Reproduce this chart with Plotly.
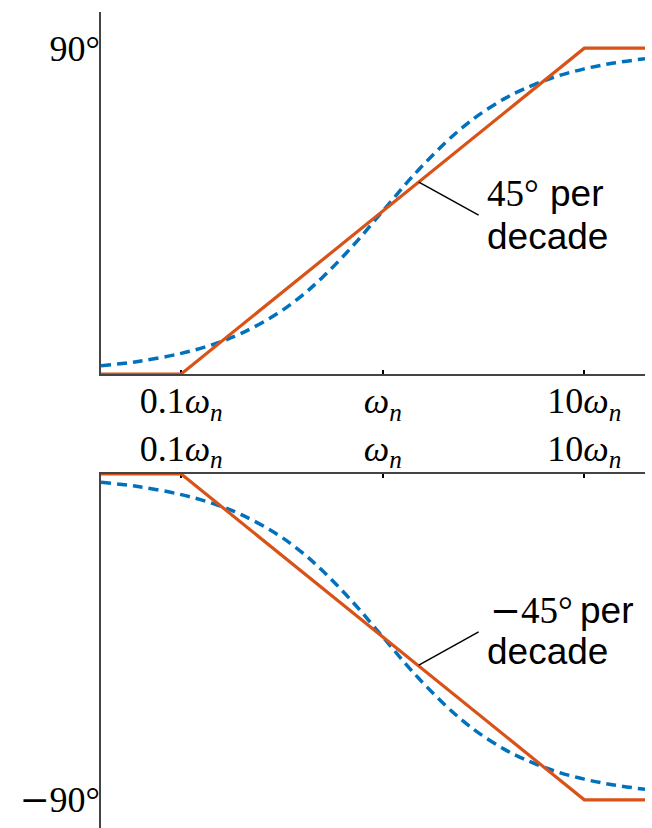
import numpy as np
import plotly.graph_objects as go
from plotly.subplots import make_subplots

# Frequency samples (in units of the natural frequency) and phase readings, degrees
freq = [0.04, 0.06, 0.1, 0.15, 0.2, 0.3, 0.4, 0.5, 0.7, 1.0,
        1.4, 2.0, 2.5, 3.0, 4.0, 5.0, 7.0, 10.0, 14.0, 20.0]
phase_exact = [2.3, 3.4, 5.7, 8.5, 11.3, 16.7, 21.8, 26.6, 35.0, 45.0,
               54.5, 63.4, 68.2, 71.6, 76.0, 78.7, 81.9, 84.3, 85.9, 87.1]
phase_exact_neg = [-v for v in phase_exact]

# Straight-line (asymptotic) approximation
asym_freq = [0.04, 0.1, 10.0, 20.0]
asym_phase = [0, 0, 90, 90]
asym_phase_neg = [0, 0, -90, -90]

# Leader lines pointing at the asymptote slope
lead_freq = [1.51, 2.99]
lead_top = [53.0, 43.9]
lead_bot = [-52.8, -43.6]

tick_vals = [0.1, 1, 10]
tick_text = ["0.1<i>ω</i><sub><i>n</i></sub>",
             "<i>ω</i><sub><i>n</i></sub>",
             "10<i>ω</i><sub><i>n</i></sub>"]

BLUE = "#0072BD"
ORANGE = "#D95319"
AXIS = "#444444"
SERIF = "Liberation Serif"
SANS = "Liberation Sans"
# math-style minus sign with a wider glyph
MINUS = '<span style="font-family:DejaVu Serif">−</span>'

W, H = 652, 828
top_px, mid1_px, mid2_px, bot_px = 12, 374, 474, 828
span = bot_px - top_px

fig = make_subplots(rows=2, cols=1, shared_xaxes=False, vertical_spacing=0.05)

def add_panel(row, exact, asym, lead):
    fig.add_trace(go.Scatter(x=freq, y=exact, mode="lines",
                             line=dict(color=BLUE, width=3.5, dash="10px,6px", shape="spline"),
                             showlegend=False, hoverinfo="skip"), row=row, col=1)
    fig.add_trace(go.Scatter(x=asym_freq, y=asym, mode="lines",
                             line=dict(color=ORANGE, width=3.2),
                             showlegend=False, hoverinfo="skip"), row=row, col=1)
    fig.add_trace(go.Scatter(x=lead_freq, y=lead, mode="lines",
                             line=dict(color="black", width=1.5),
                             showlegend=False, hoverinfo="skip"), row=row, col=1)

add_panel(1, phase_exact, asym_phase, lead_top)
add_panel(2, phase_exact_neg, asym_phase_neg, lead_bot)

xaxis_common = dict(type="log", range=[np.log10(0.04), np.log10(20)],
                    tickvals=tick_vals, ticktext=tick_text,
                    ticks="inside", ticklen=4, tickwidth=1.5, tickcolor="black",
                    showline=True, linecolor=AXIS, linewidth=1.6,
                    showgrid=False, zeroline=False, layer="below traces",
                    tickfont=dict(family=SERIF, size=36, color="black"))

yaxis_common = dict(ticks="", ticklen=0, showline=True, linecolor=AXIS, linewidth=1.6,
                    showgrid=False, zeroline=False, layer="below traces",
                    tickfont=dict(family=SERIF, size=36, color="black"),
                    ticklabelstandoff=-8)

fig.update_layout(
    width=W, height=H,
    margin=dict(l=101, r=7, t=top_px, b=0),
    paper_bgcolor="white", plot_bgcolor="white",
    xaxis=dict(**xaxis_common, side="bottom", anchor="y", ticklabelstandoff=-6),
    xaxis2=dict(**xaxis_common, side="top", anchor="y2", ticklabelstandoff=-3),
    yaxis=dict(**yaxis_common, domain=[(bot_px - mid1_px) / span, 1.0], range=[0, 100],
               tickvals=[90], ticktext=["90°"]),
    yaxis2=dict(**yaxis_common, domain=[0.0, (bot_px - mid2_px) / span],
                range=[-(bot_px - mid2_px) / 3.62, 0],
                tickvals=[-90], ticktext=[MINUS + "90°"]),
)

# Slope labels: degree values set in serif, words in sans
serif_font = dict(family=SERIF, size=37, color="black")
sans_font = dict(family=SANS, size=37, color="black")
labels = [
    ("x", "y", 0.511, 49.9, "45°", serif_font),
    ("x", "y", 0.827, 49.9, "per", sans_font),
    ("x", "y", 0.511, 38.1, "decade", sans_font),
    ("x2", "y2", 0.526, -37.8, MINUS + "45°", serif_font),
    ("x2", "y2", 0.973, -37.8, "per", sans_font),
    ("x2", "y2", 0.511, -48.9, "decade", sans_font),
]
for xr, yr, xv, yv, txt, fnt in labels:
    fig.add_annotation(x=xv, y=yv, xref=xr, yref=yr, text=txt,
                       xanchor="left", yanchor="middle", showarrow=False,
                       font=fnt, borderpad=0)

fig.write_html("out.html")
